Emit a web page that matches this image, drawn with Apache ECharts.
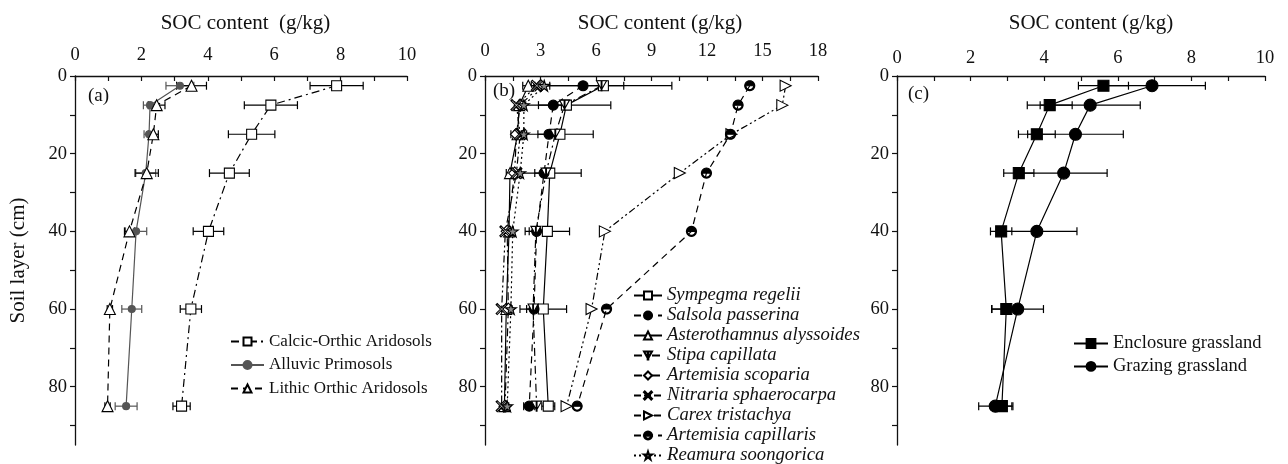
<!DOCTYPE html>
<html>
<head>
<meta charset="utf-8">
<script src="https://cdn.jsdelivr.net/npm/echarts@6/dist/echarts.min.js"></script>
<style>
  html, body { margin: 0; padding: 0; background: #fff; }
  #chart { width: 1288px; height: 464px; }
</style>
</head>
<body>
<div id="chart"></div>
<script>
// soil layer mid-depths (cm)
const depths = [2.5, 7.5, 15, 25, 40, 60, 85]

// axis ticks / labels
const yTicks = [0, 10, 20, 30, 40, 50, 60, 70, 80, 90]
const yLabels = [0, 20, 40, 60, 80]
const xTicksA = [0, 1, 2, 3, 4, 5, 6, 7, 8, 9, 10]
const xLabelsA = [0, 2, 4, 6, 8, 10]
const xTicksB = [0, 1.5, 3, 4.5, 6, 7.5, 9, 10.5, 12, 13.5, 15, 16.5, 18]
const xLabelsB = [0, 3, 6, 9, 12, 15, 18]
const xTicksC = [0, 1, 2, 3, 4, 5, 6, 7, 8, 9, 10]
const xLabelsC = [0, 2, 4, 6, 8, 10]

// (a) soil types
const calcicMean = [7.88, 5.9, 5.32, 4.65, 4.02, 3.49, 3.21]
const calcicErr = [0.8, 0.8, 0.7, 0.6, 0.46, 0.32, 0.26]
const alluvicMean = [3.16, 2.26, 2.23, 2.13, 1.84, 1.71, 1.54]
const alluvicErr = [0.42, 0.2, 0.15, 0.3, 0.32, 0.3, 0.33]
const lithicMean = [3.51, 2.46, 2.36, 2.16, 1.64, 1.05, 0.98]
const lithicErr = [0.45, 0.25, 0.15, 0.35, 0.15, 0.08, 0.08]

// (b) vegetation types
const sympegmaMean = [6.4, 4.4, 4.05, 3.5, 3.37, 3.15, 3.42]
const sympegmaErr = [3.7, 2.4, 1.8, 1.7, 1.2, 1.26, 0.35]
const salsolaMean = [5.3, 3.69, 3.46, 3.19, 2.79, 2.65, 2.39]
const salsolaErr = [2.2, 0.8, 0.6, 0.5, 0.4, 0.4, 0.3]
const asteroMean = [2.34, 1.85, 1.76, 1.35, 1.3, 1.15, 1.05]
const asteroErr = [0.3, 0.25, 0.2, 0.2, 0.2, 0.15, 0.15]
const stipaMean = [6.3, 4.3, 3.8, 3.3, 2.75, 2.6, 2.79]
const scopariaMean = [3.0, 1.9, 1.7, 1.6, 1.2, 1.26, 1.08]
const scopariaErr = [0.5, 0.3, 0.3, 0.3, 0.25, 0.2, 0.2]
const nitrariaMean = [2.8, 1.7, 1.9, 1.7, 1.1, 0.9, 0.9]
const carexMean = [16.25, 16.07, 13.32, 10.53, 6.48, 5.76, 4.41]
const capillarisMean = [14.31, 13.68, 13.27, 11.97, 11.16, 6.57, 4.98]
const reamuraMean = [3.2, 2.1, 2.1, 1.9, 1.5, 1.4, 1.2]

// (c) grassland management
const enclosureMean = [5.61, 4.15, 3.8, 3.31, 2.83, 2.97, 2.85]
const enclosureErr = [0.68, 0.61, 0.5, 0.41, 0.29, 0.4, 0.3]
const grazingMean = [6.93, 5.25, 4.85, 4.53, 3.8, 3.28, 2.67]
const grazingErr = [1.45, 1.36, 1.3, 1.18, 1.09, 0.7, 0.45]

const font = 'Liberation Serif'
const ink = '#111'

const chart = echarts.init(document.getElementById('chart'))

// half-filled circle: black top half, thin ring round the bottom half
const arcPts = (r, from, to, step) => {
  const pts = []
  for (let a = from; step > 0 ? a <= to : a >= to; a += step) {
    const t = a * Math.PI / 180
    pts.push((5 + r * Math.cos(t)).toFixed(2) + ',' + (5 + r * Math.sin(t)).toFixed(2))
  }
  return pts
}
const halfPath = 'path://M' + arcPts(5, 180, 360, 15).join('L') + 'Z' +
  'M' + arcPts(5, 0, 180, 15).concat(arcPts(3.9, 180, 0, -15)).join('L') + 'Z'

const P = {
  cross: 'path://M0,1L1,0L5,4L9,0L10,1L6,5L10,9L9,10L5,6L1,10L0,9L4,5Z',
  star: 'path://M5,0L6.2,3.6L10,3.6L6.9,5.8L8.1,9.5L5,7.2L1.9,9.5L3.1,5.8L0,3.6L3.8,3.6Z',
  right: 'path://M0,0L10,5L0,10Z',
  down: 'path://M0,0L10,0L5,9ZM4.6,0L5.4,0L5.4,10L4.6,10Z',
  half: halfPath,
}

const xAxisOf = (gi, max, ticks, labels, name, shift, margin) => ({
  gridIndex: gi, type: 'value', position: 'top', min: 0, max,
  name, nameLocation: 'middle', nameGap: 42,
  nameTextStyle: { fontFamily: font, fontSize: 21, color: ink, padding: [0, 0, 0, shift] },
  axisLine: { show: true, onZero: false, lineStyle: { color: ink, width: 1.3 } },
  axisTick: { show: true, inside: true, length: 5, customValues: ticks, lineStyle: { color: ink, width: 1.2 } },
  axisLabel: { customValues: labels, margin, fontFamily: font, fontSize: 18.5, color: ink },
  splitLine: { show: false },
})

const yAxisOf = (gi, name) => ({
  gridIndex: gi, type: 'value', inverse: true, min: 0, max: 95,
  name, nameLocation: 'middle', nameGap: 46, nameRotate: 90,
  nameTextStyle: { fontFamily: font, fontSize: 21, color: ink },
  axisLine: { show: true, onZero: false, lineStyle: { color: ink, width: 1.3 } },
  axisTick: { show: true, length: 5, customValues: yTicks, lineStyle: { color: ink, width: 1.2 } },
  axisLabel: { customValues: yLabels, margin: 8, fontFamily: font, fontSize: 18.5, color: ink },
  splitLine: { show: false },
})

const line = (name, mean, gi, symbol, size, fill, dash, color = '#000') => ({
  name, type: 'line', xAxisIndex: gi, yAxisIndex: gi, z: 3,
  data: depths.map((d, i) => [mean[i], d]),
  symbol, symbolSize: size, showAllSymbol: true,
  itemStyle: { color: fill, borderColor: color, borderWidth: 1.1 },
  lineStyle: { color, width: 1.2, type: dash },
  emphasis: { disabled: true },
})

const errorBars = (mean, err, gi, color = '#000') => ({
  type: 'custom', xAxisIndex: gi, yAxisIndex: gi, z: 1, silent: true,
  data: depths.map((d, i) => [mean[i] - err[i], mean[i] + err[i], d]),
  encode: { x: [0, 1], y: 2 },
  renderItem: (params, api) => {
    const lo = api.coord([api.value(0), api.value(2)])
    const hi = api.coord([api.value(1), api.value(2)])
    const h = 4
    const style = { stroke: color, lineWidth: 1.2 }
    return {
      type: 'group',
      children: [
        { type: 'line', shape: { x1: lo[0], y1: lo[1], x2: hi[0], y2: hi[1] }, style },
        { type: 'line', shape: { x1: lo[0], y1: lo[1] - h, x2: lo[0], y2: lo[1] + h }, style },
        { type: 'line', shape: { x1: hi[0], y1: hi[1] - h, x2: hi[0], y2: hi[1] + h }, style },
      ],
    }
  },
})

const dash = [7, 5]
const dashDot = [8, 4, 2, 4]
const dashDotDot = [7, 3, 2, 3, 2, 3]
const dotted = [2, 3]

chart.setOption({
  animation: false,
  backgroundColor: '#fff',
  grid: [
    { left: 75, top: 76, width: 332, height: 369 },
    { left: 485, top: 76, width: 333, height: 369 },
    { left: 897, top: 76, width: 368, height: 369 },
  ],
  xAxis: [
    xAxisOf(0, 10, xTicksA, xLabelsA, 'SOC content  (g/kg)', 9, 11),
    xAxisOf(1, 18, xTicksB, xLabelsB, 'SOC content (g/kg)', 17, 15),
    xAxisOf(2, 10, xTicksC, xLabelsC, 'SOC content (g/kg)', 20, 8),
  ],
  yAxis: [yAxisOf(0, 'Soil layer (cm)'), yAxisOf(1, ''), yAxisOf(2, '')],
  legend: [
    {
      data: ['Calcic-Orthic Aridosols', 'Alluvic Primosols', 'Lithic Orthic Aridosols'],
      left: 225, top: 328, orient: 'vertical', itemGap: 6.5, itemWidth: 33, itemHeight: 10,
      selectedMode: false, textStyle: { fontFamily: font, fontSize: 17, color: ink },
    },
    {
      data: ['Sympegma regelii', 'Salsola passerina', 'Asterothamnus alyssoides', 'Stipa capillata',
        'Artemisia scoparia', 'Nitraria sphaerocarpa', 'Carex tristachya', 'Artemisia capillaris',
        'Reamura soongorica'],
      left: 633, top: 286, height: 200, padding: 0, orient: 'vertical', itemGap: 1,
      itemWidth: 28, itemHeight: 10,
      selectedMode: false, textStyle: { fontFamily: font, fontSize: 18.7, fontStyle: 'italic', color: ink },
    },
    {
      data: ['Enclosure grassland', 'Grazing grassland'],
      left: 1068, top: 329, orient: 'vertical', itemGap: 3.9, itemWidth: 34, itemHeight: 11,
      selectedMode: false, textStyle: { fontFamily: font, fontSize: 18.5, color: ink },
    },
  ],
  graphic: [
    { type: 'text', left: 88, top: 87, style: { text: '(a)', font: '19px "Liberation Serif"', fill: ink } },
    { type: 'text', left: 493, top: 82, style: { text: '(b)', font: '19px "Liberation Serif"', fill: ink } },
    { type: 'text', left: 908, top: 85, style: { text: '(c)', font: '19px "Liberation Serif"', fill: ink } },
  ],
  series: [
    // (a)
    errorBars(calcicMean, calcicErr, 0),
    errorBars(alluvicMean, alluvicErr, 0, '#555'),
    errorBars(lithicMean, lithicErr, 0),
    line('Calcic-Orthic Aridosols', calcicMean, 0, 'rect', 10, '#fff', dashDot),
    line('Alluvic Primosols', alluvicMean, 0, 'circle', 7, '#555', 'solid', '#555'),
    line('Lithic Orthic Aridosols', lithicMean, 0, 'triangle', 11, '#fff', dash),
    // (b)
    errorBars(sympegmaMean, sympegmaErr, 1),
    errorBars(salsolaMean, salsolaErr, 1),
    errorBars(asteroMean, asteroErr, 1),
    errorBars(scopariaMean, scopariaErr, 1),
    line('Sympegma regelii', sympegmaMean, 1, 'rect', 10, '#fff', 'solid'),
    line('Salsola passerina', salsolaMean, 1, 'circle', 10, '#000', dash),
    line('Asterothamnus alyssoides', asteroMean, 1, 'triangle', 11, '#fff', 'solid'),
    line('Stipa capillata', stipaMean, 1, P.down, 10, '#fff', dashDot),
    line('Artemisia scoparia', scopariaMean, 1, 'diamond', 12, '#fff', dashDot),
    line('Nitraria sphaerocarpa', nitrariaMean, 1, P.cross, 11, '#fff', dashDotDot),
    line('Carex tristachya', carexMean, 1, P.right, 11, '#fff', dashDotDot),
    line('Artemisia capillaris', capillarisMean, 1, P.half, 10, '#000', dash),
    line('Reamura soongorica', reamuraMean, 1, P.star, 11, '#888', dotted),
    // (c)
    errorBars(enclosureMean, enclosureErr, 2),
    errorBars(grazingMean, grazingErr, 2),
    line('Enclosure grassland', enclosureMean, 2, 'rect', 11, '#000', 'solid'),
    line('Grazing grassland', grazingMean, 2, 'circle', 12, '#000', 'solid'),
  ],
})
</script>
</body>
</html>
